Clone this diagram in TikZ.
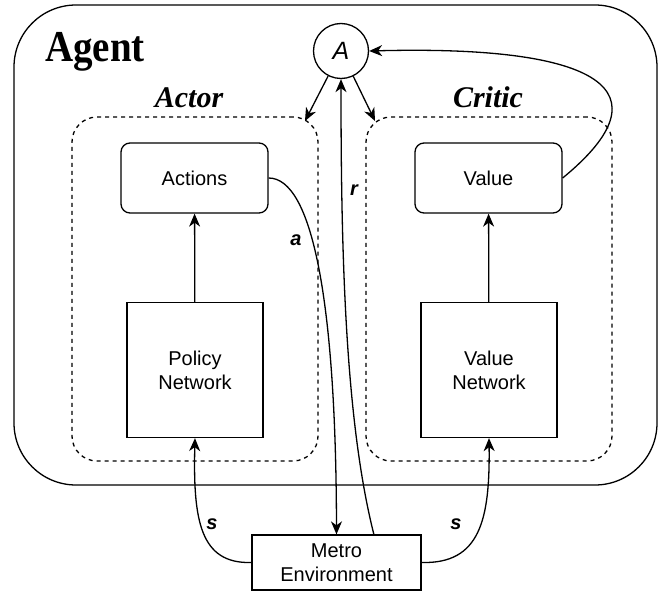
\documentclass[tikz,border=0pt]{standalone}
\usepackage{fontspec}
\setmainfont{Liberation Serif}
\setsansfont{Liberation Sans}
\usetikzlibrary{arrows.meta,calc}
\begin{document}
\begin{tikzpicture}[x=1pt,y=-1pt,
  line width=1.3pt,
  arr/.style={-{Stealth[length=13pt,width=11pt,inset=4pt]}},
  dbox/.style={draw,dash pattern=on 4pt off 4pt,rounded corners=25pt,minimum width=246pt,minimum height=344pt,inner sep=0pt},
  rbox/.style={draw,rounded corners=9pt,minimum width=147pt,minimum height=70pt,inner sep=0pt,font=\sffamily\fontsize{20}{24}\selectfont},
  sbox/.style={draw,minimum width=136pt,minimum height=135pt,inner sep=0pt,align=center,font=\sffamily\fontsize{20}{24}\selectfont},
  ebox/.style={draw,minimum width=169pt,minimum height=55pt,inner sep=0pt,align=center,font=\sffamily\fontsize{20}{24}\selectfont},
  lab/.style={font=\sffamily\bfseries\itshape\fontsize{20}{20}\selectfont,inner sep=0pt},
  title/.style={font=\bfseries\itshape\fontsize{30}{30}\selectfont,inner sep=0pt,anchor=base}
]
\useasboundingbox (0,0) rectangle (659,594);

\node[draw,rounded corners=62pt,minimum width=643pt,minimum height=480pt,inner sep=0pt] (agent) at (335.5,245) {};
\node[inner sep=0pt,anchor=base] (agentlbl) at (95,62) {\scalebox{1}[1.13]{\fontsize{39}{39}\selectfont\bfseries Agent}};

\node[draw,circle,minimum size=55pt,inner sep=0pt,font=\sffamily\itshape\fontsize{25}{25}\selectfont] (A) at (341,51) {A};

\node[dbox] (actorbox) at (195,289) {};
\node[dbox] (criticbox) at (489,289) {};
\node[title] (actorlbl) at (189,107.5) {Actor};
\node[title] (criticlbl) at (488,107.5) {Critic};

\node[rbox] (actions) at (194.5,178) {Actions};
\node[rbox] (value) at (488.5,178) {Value};
\node[sbox] (policy) at (195,370) {Policy\\Network};
\node[sbox] (valnet) at (489,370) {Value\\Network};
\node[ebox] (env) at (336.5,562.5) {Metro\\Environment};

\coordinate (actin) at (305,121);
\coordinate (critin) at (375,121);

\draw[arr] (policy) -- (actions);
\draw[arr] (valnet) -- (value);
\draw[arr] (A) -- (actin);
\draw[arr] (A) -- (critin);
\draw[arr] (env.37) .. controls (345,420) and (341,250) .. (A.south);
\draw[arr] (actions.east) .. controls (312,178) and (336,300) .. (env.north);
\draw[arr] (env.west) .. controls (200,564) and (193,520) .. (policy.south);
\draw[arr] (env.east) .. controls (480,564) and (490,520) .. (valnet.south);
\draw[arr] (value.east) .. controls (670,90) and (600,45) .. (A.east);

\node[lab] (la) at (296,240) {a};
\node[lab] (lr) at (354,190) {r};
\node[lab] (ls1) at (212,524) {s};
\node[lab] (ls2) at (456,524) {s};
\end{tikzpicture}
\end{document}
